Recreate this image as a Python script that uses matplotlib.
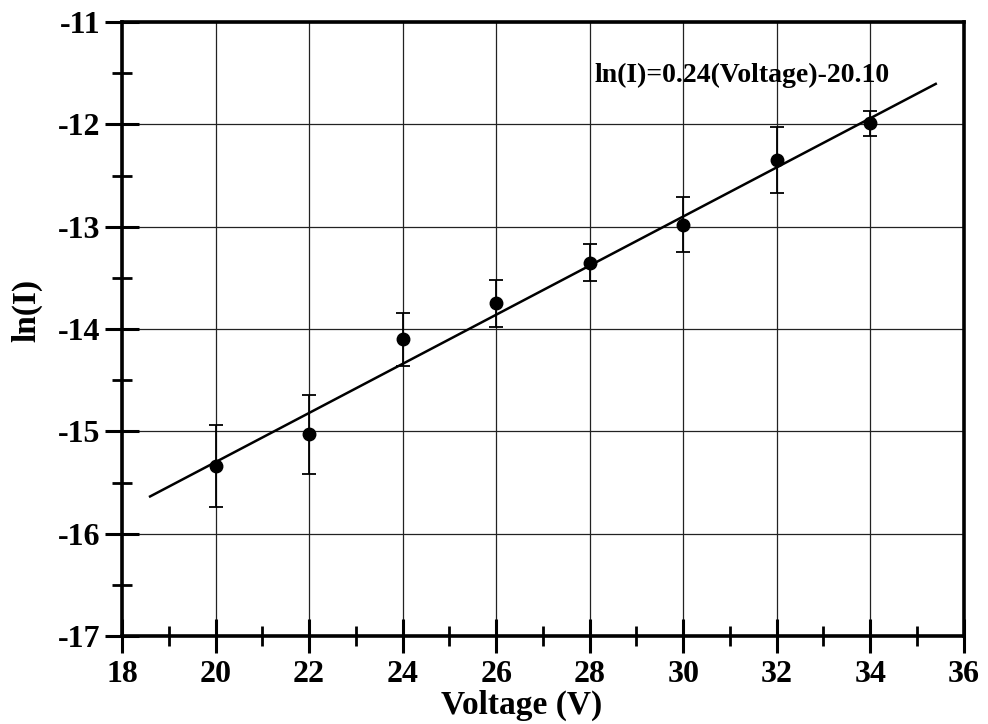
import numpy as np
import matplotlib
matplotlib.use("Agg")
import matplotlib.pyplot as plt
from matplotlib.ticker import MultipleLocator

# measured points
voltage = [20, 22, 24, 26, 28, 30, 32, 34]
ln_i = [-15.34, -15.03, -14.10, -13.75, -13.35, -12.98, -12.35, -11.99]
ln_i_err = [0.40, 0.39, 0.26, 0.23, 0.18, 0.27, 0.32, 0.12]

# linear fit ln(I) = a*V + b
slope = 0.24
intercept = -20.10
fit_range = [18.6, 35.4]

plt.rcParams['font.family'] = ['Liberation Serif', 'DejaVu Serif']
plt.rcParams['font.weight'] = 'bold'
plt.rcParams['axes.unicode_minus'] = False

fig = plt.figure(figsize=(9.88, 7.24), dpi=100)
ax = fig.add_axes([0.1235, 0.1215, 0.852, 0.848])

ax.errorbar(voltage, ln_i, yerr=ln_i_err, fmt='o', color='black',
            markersize=9, elinewidth=1.3, capsize=4.7, capthick=1.3, zorder=3)

vfit = np.linspace(fit_range[0], fit_range[1], 50)
ax.plot(vfit, slope * vfit + intercept, color='black', lw=1.8, zorder=2)

ax.text(28.1, -11.52, 'ln(I)=0.24(Voltage)-20.10', fontsize=20,
        fontweight='bold', va='center', ha='left')

ax.set_xlim(18, 36)
ax.set_ylim(-17, -11)
ax.xaxis.set_major_locator(MultipleLocator(2))
ax.xaxis.set_minor_locator(MultipleLocator(1))
ax.yaxis.set_major_locator(MultipleLocator(1))
ax.yaxis.set_minor_locator(MultipleLocator(0.5))

ax.grid(True, which='major', color='#222222', lw=0.9)
ax.set_axisbelow(True)

for s in ax.spines.values():
    s.set_linewidth(2.6)

ax.tick_params(which='major', direction='inout', length=25, width=2.2,
               labelsize=23)
ax.tick_params(which='minor', direction='inout', length=15, width=2)
ax.tick_params(axis='x', which='major', pad=5)
ax.tick_params(axis='y', which='major', pad=3)
for lab in ax.get_xticklabels() + ax.get_yticklabels():
    lab.set_fontweight('bold')

ax.set_xlabel('Voltage (V)', fontsize=24, fontweight='bold')
ax.set_ylabel('ln(I)', fontsize=24, fontweight='bold')
ax.xaxis.set_label_coords(0.475, -0.087)
ax.yaxis.set_label_coords(-0.095, 0.53)

fig.savefig('out.png', dpi=100)
